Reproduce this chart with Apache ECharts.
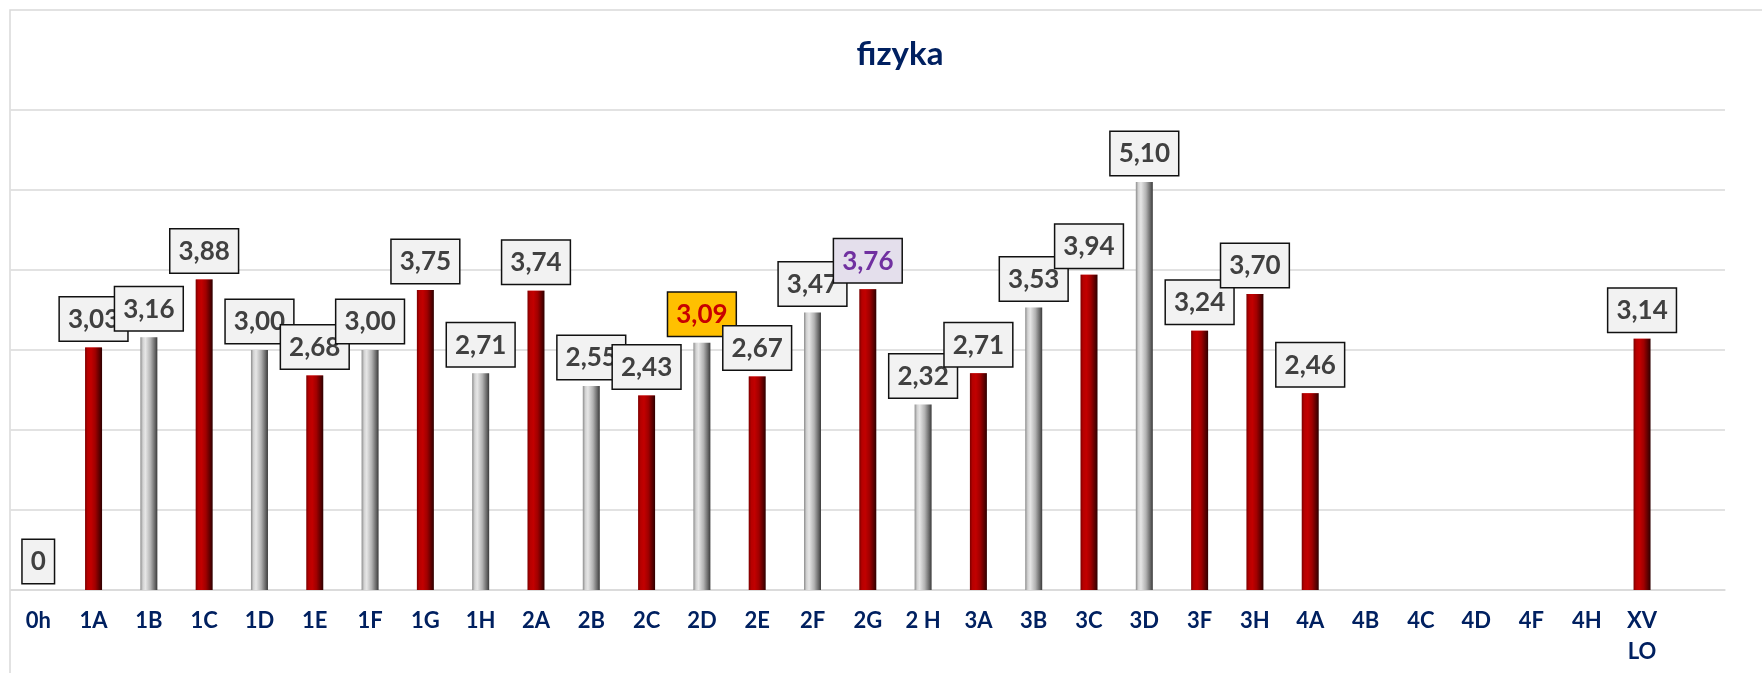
<!DOCTYPE html>
<html>
<head>
<meta charset="utf-8">
<script src="https://cdn.jsdelivr.net/npm/echarts@6/dist/echarts.min.js"></script>
<style>
  html, body { margin: 0; padding: 0; background: #ffffff; }
  #chart { width: 1762px; height: 673px; }
</style>
</head>
<body>
<div id="chart"></div>
<script>
const titleText = 'fizyka';
const categories = ['0h','1A','1B','1C','1D','1E','1F','1G','1H','2A','2B','2C','2D','2E','2F','2G','2 H','3A','3B','3C','3D','3F','3H','4A','4B','4C','4D','4F','4H','XV\nLO',''];
const values = [0, 3.03, 3.16, 3.88, 3.00, 2.68, 3.00, 3.75, 2.71, 3.74, 2.55, 2.43, 3.09, 2.67, 3.47, 3.76, 2.32, 2.71, 3.53, 3.94, 5.10, 3.24, 3.70, 2.46, null, null, null, null, null, 3.14, null];
const barTone = ['r','r','g','r','g','r','g','r','g','r','g','r','g','r','g','r','g','r','g','r','g','r','r','r','r','r','r','r','r','r','r'];
const yTicks = [0, 1, 2, 3, 4, 5, 6];
const highlightGold = '2D';
const highlightLavender = '2G';

const redFill = new echarts.graphic.LinearGradient(0, 0, 1, 0, [
  { offset: 0, color: '#7a0000' },
  { offset: 0.15, color: '#b60000' },
  { offset: 0.35, color: '#c20000' },
  { offset: 0.6, color: '#a00000' },
  { offset: 0.85, color: '#5a0000' },
  { offset: 1, color: '#2e0000' }
]);
const grayFill = new echarts.graphic.LinearGradient(0, 0, 1, 0, [
  { offset: 0, color: '#8c8c8c' },
  { offset: 0.15, color: '#d2d2d2' },
  { offset: 0.3, color: '#e6e6e6' },
  { offset: 0.6, color: '#b2b2b2' },
  { offset: 0.85, color: '#6a6a6a' },
  { offset: 1, color: '#3a3a3a' }
]);

const fmt = v => (v === 0 ? '0' : v.toFixed(2).replace('.', ','));

const barData = values.map((v, i) => {
  if (v === null) return { value: null };
  const item = {
    value: v,
    itemStyle: { color: barTone[i] === 'r' ? redFill : grayFill }
  };
  if (categories[i] === highlightGold) {
    item.label = { backgroundColor: '#ffc000', color: '#c80000' };
  } else if (categories[i] === highlightLavender) {
    item.label = { backgroundColor: '#e4dfec', color: '#7030a0' };
  }
  return item;
});

const capData = values.map((v, i) => {
  if (v === null || v === 0) return { value: null };
  return {
    value: v,
    itemStyle: { color: barTone[i] === 'r' ? '#d80808' : '#f4f4f4' }
  };
});

const chart = echarts.init(document.getElementById('chart'), null, { renderer: 'canvas' });
chart.setOption({
  animation: false,
  backgroundColor: '#ffffff',
  textStyle: { fontFamily: 'Lato' },
  title: {
    text: titleText,
    left: 895,
    textAlign: 'center',
    top: 33,
    textStyle: { fontFamily: 'Lato', fontSize: 33, fontWeight: 'bold', color: '#002060' }
  },
  graphic: [{
    type: 'rect',
    z: -10,
    silent: true,
    shape: { x: 10, y: 10, width: 1900, height: 800 },
    style: { fill: 'none', stroke: '#d9d9d9', lineWidth: 1.5 }
  }],
  grid: { left: 10.6, right: 37, top: 110, bottom: 83, containLabel: false },
  xAxis: {
    type: 'category',
    data: categories,
    axisLine: { show: true, lineStyle: { color: '#d9d9d9', width: 1.5 } },
    axisTick: { show: false },
    axisLabel: {
      interval: 0,
      margin: 15,
      color: '#002060',
      fontFamily: 'Lato',
      fontWeight: 'bold',
      fontSize: 22,
      lineHeight: 31
    },
    splitLine: { show: false }
  },
  yAxis: {
    type: 'value',
    min: yTicks[0],
    max: yTicks[yTicks.length - 1],
    interval: 1,
    axisLabel: { show: false },
    axisLine: { show: false },
    axisTick: { show: false },
    splitLine: { show: true, lineStyle: { color: '#d9d9d9', width: 1.5 } }
  },
  series: [{
    type: 'bar',
    data: barData,
    barWidth: 17,
    label: {
      show: true,
      position: 'top',
      distance: 7,
      formatter: p => fmt(p.value),
      fontFamily: 'Lato',
      fontWeight: 'bold',
      fontSize: 26,
      lineHeight: 28,
      color: '#404040',
      backgroundColor: '#f2f2f2',
      borderColor: '#111111',
      borderWidth: 1.5,
      padding: [8, 8, 7, 8]
    },
    labelLayout: { hideOverlap: false }
  }, {
    type: 'scatter',
    data: capData,
    silent: true,
    symbol: 'triangle',
    symbolRotate: 180,
    symbolSize: [17, 9],
    symbolOffset: [0, 4.5],
    z: 1
  }]
});
</script>
</body>
</html>
